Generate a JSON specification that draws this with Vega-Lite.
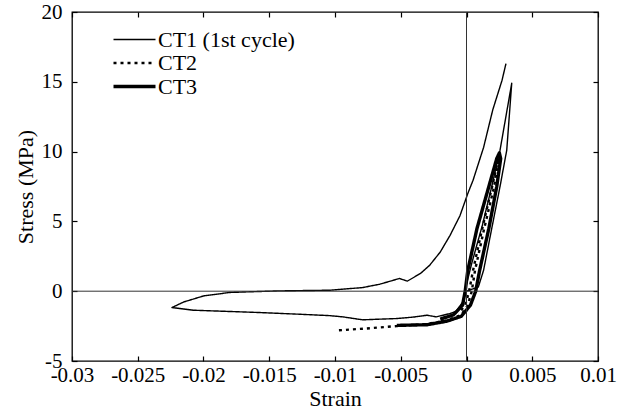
{
  "$schema": "https://vega.github.io/schema/vega-lite/v6.json",
  "width": 526,
  "height": 349,
  "autosize": "none",
  "padding": {"left": 72, "top": 12, "right": 36, "bottom": 54},
  "background": "white",
  "config": {
    "view": {"stroke": "black", "strokeWidth": 1.3},
    "font": "Liberation Serif",
    "axis": {
      "grid": false,
      "domain": false,
      "labelFont": "Liberation Serif",
      "titleFont": "Liberation Serif",
      "labelFontSize": 21,
      "labelColor": "black",
      "labelOverlap": false,
      "labelFlush": false,
      "titleFontSize": 22,
      "titleFontWeight": "normal",
      "titleColor": "black",
      "tickColor": "black",
      "tickWidth": 1.2,
      "tickSize": 5,
      "offset": -5
    }
  },
  "resolve": {"scale": {"x": "independent", "y": "independent"}},
  "layer": [
    {
      "layer": [
        {
          "data": {"values": [
            {"series": "CT1 (1st cycle)", "i": 1, "strain": 0.0, "stress": 0.0},
            {"series": "CT1 (1st cycle)", "i": 2, "strain": 0.0009, "stress": 0.3},
            {"series": "CT1 (1st cycle)", "i": 3, "strain": 0.0013, "stress": 1.5},
            {"series": "CT1 (1st cycle)", "i": 4, "strain": 0.0019, "stress": 4.4},
            {"series": "CT1 (1st cycle)", "i": 5, "strain": 0.00255, "stress": 7.5},
            {"series": "CT1 (1st cycle)", "i": 6, "strain": 0.00306, "stress": 10.1},
            {"series": "CT1 (1st cycle)", "i": 7, "strain": 0.00344, "stress": 14.9},
            {"series": "CT1 (1st cycle)", "i": 8, "strain": 0.00255, "stress": 10.1},
            {"series": "CT1 (1st cycle)", "i": 9, "strain": 0.00192, "stress": 7.5},
            {"series": "CT1 (1st cycle)", "i": 10, "strain": 0.0012, "stress": 4.7},
            {"series": "CT1 (1st cycle)", "i": 11, "strain": 0.0004, "stress": 2.0},
            {"series": "CT1 (1st cycle)", "i": 12, "strain": 0.0, "stress": 0.5},
            {"series": "CT1 (1st cycle)", "i": 13, "strain": -0.0003, "stress": -0.8},
            {"series": "CT1 (1st cycle)", "i": 14, "strain": -0.0008, "stress": -1.45},
            {"series": "CT1 (1st cycle)", "i": 15, "strain": -0.00125, "stress": -1.6},
            {"series": "CT1 (1st cycle)", "i": 16, "strain": -0.0023, "stress": -1.84},
            {"series": "CT1 (1st cycle)", "i": 17, "strain": -0.003, "stress": -1.72},
            {"series": "CT1 (1st cycle)", "i": 18, "strain": -0.004, "stress": -1.85},
            {"series": "CT1 (1st cycle)", "i": 19, "strain": -0.0053, "stress": -1.96},
            {"series": "CT1 (1st cycle)", "i": 20, "strain": -0.0065, "stress": -2.0},
            {"series": "CT1 (1st cycle)", "i": 21, "strain": -0.0079, "stress": -2.05},
            {"series": "CT1 (1st cycle)", "i": 22, "strain": -0.0094, "stress": -1.84},
            {"series": "CT1 (1st cycle)", "i": 23, "strain": -0.0104, "stress": -1.75},
            {"series": "CT1 (1st cycle)", "i": 24, "strain": -0.0127, "stress": -1.65},
            {"series": "CT1 (1st cycle)", "i": 25, "strain": -0.0157, "stress": -1.53},
            {"series": "CT1 (1st cycle)", "i": 26, "strain": -0.0208, "stress": -1.36},
            {"series": "CT1 (1st cycle)", "i": 27, "strain": -0.0224, "stress": -1.17},
            {"series": "CT1 (1st cycle)", "i": 28, "strain": -0.0215, "stress": -0.77},
            {"series": "CT1 (1st cycle)", "i": 29, "strain": -0.02, "stress": -0.34},
            {"series": "CT1 (1st cycle)", "i": 30, "strain": -0.018, "stress": -0.09},
            {"series": "CT1 (1st cycle)", "i": 31, "strain": -0.0144, "stress": 0.02},
            {"series": "CT1 (1st cycle)", "i": 32, "strain": -0.0104, "stress": 0.07},
            {"series": "CT1 (1st cycle)", "i": 33, "strain": -0.0079, "stress": 0.26},
            {"series": "CT1 (1st cycle)", "i": 34, "strain": -0.0066, "stress": 0.5},
            {"series": "CT1 (1st cycle)", "i": 35, "strain": -0.0051, "stress": 0.91},
            {"series": "CT1 (1st cycle)", "i": 36, "strain": -0.0045, "stress": 0.72},
            {"series": "CT1 (1st cycle)", "i": 37, "strain": -0.0035, "stress": 1.27},
            {"series": "CT1 (1st cycle)", "i": 38, "strain": -0.0028, "stress": 1.86},
            {"series": "CT1 (1st cycle)", "i": 39, "strain": -0.002, "stress": 2.8},
            {"series": "CT1 (1st cycle)", "i": 40, "strain": -0.00125, "stress": 4.0},
            {"series": "CT1 (1st cycle)", "i": 41, "strain": -0.0005, "stress": 5.4},
            {"series": "CT1 (1st cycle)", "i": 42, "strain": 0.0001, "stress": 7.0},
            {"series": "CT1 (1st cycle)", "i": 43, "strain": 0.0005, "stress": 7.95},
            {"series": "CT1 (1st cycle)", "i": 44, "strain": 0.0013, "stress": 10.3},
            {"series": "CT1 (1st cycle)", "i": 45, "strain": 0.002, "stress": 13.0},
            {"series": "CT1 (1st cycle)", "i": 46, "strain": 0.0027, "stress": 15.1},
            {"series": "CT1 (1st cycle)", "i": 47, "strain": 0.003, "stress": 16.3},

            {"series": "CT2", "i": 1, "strain": -0.0097, "stress": -2.8},
            {"series": "CT2", "i": 2, "strain": -0.0076, "stress": -2.67},
            {"series": "CT2", "i": 3, "strain": -0.0053, "stress": -2.5},
            {"series": "CT2", "i": 4, "strain": -0.003, "stress": -2.35},
            {"series": "CT2", "i": 5, "strain": -0.0015, "stress": -2.1},
            {"series": "CT2", "i": 6, "strain": -0.0004, "stress": -1.7},
            {"series": "CT2", "i": 7, "strain": 0.0001, "stress": -1.0},
            {"series": "CT2", "i": 8, "strain": 0.0004, "stress": 0.0},
            {"series": "CT2", "i": 9, "strain": 0.00065, "stress": 1.5},
            {"series": "CT2", "i": 10, "strain": 0.00135, "stress": 4.5},
            {"series": "CT2", "i": 11, "strain": 0.0021, "stress": 7.5},
            {"series": "CT2", "i": 12, "strain": 0.0025, "stress": 9.8},
            {"series": "CT2", "i": 13, "strain": 0.00195, "stress": 7.5},
            {"series": "CT2", "i": 14, "strain": 0.0012, "stress": 4.5},
            {"series": "CT2", "i": 15, "strain": 0.0005, "stress": 1.5},
            {"series": "CT2", "i": 16, "strain": 0.0002, "stress": 0.0},
            {"series": "CT2", "i": 17, "strain": -0.0001, "stress": -1.0},
            {"series": "CT2", "i": 18, "strain": -0.0006, "stress": -1.6},

            {"series": "CT3", "i": 1, "strain": -0.0053, "stress": -2.45},
            {"series": "CT3", "i": 2, "strain": -0.003, "stress": -2.4},
            {"series": "CT3", "i": 3, "strain": -0.0015, "stress": -2.15},
            {"series": "CT3", "i": 4, "strain": -0.0004, "stress": -1.8},
            {"series": "CT3", "i": 5, "strain": 0.0003, "stress": -1.0},
            {"series": "CT3", "i": 6, "strain": 0.0007, "stress": 0.0},
            {"series": "CT3", "i": 7, "strain": 0.001, "stress": 1.5},
            {"series": "CT3", "i": 8, "strain": 0.0017, "stress": 4.5},
            {"series": "CT3", "i": 9, "strain": 0.0023, "stress": 7.5},
            {"series": "CT3", "i": 10, "strain": 0.0026, "stress": 9.5},
            {"series": "CT3", "i": 11, "strain": 0.0025, "stress": 9.9},
            {"series": "CT3", "i": 12, "strain": 0.0023, "stress": 9.5},
            {"series": "CT3", "i": 13, "strain": 0.0017, "stress": 7.5},
            {"series": "CT3", "i": 14, "strain": 0.0008, "stress": 4.5},
            {"series": "CT3", "i": 15, "strain": 0.0001, "stress": 1.5},
            {"series": "CT3", "i": 16, "strain": -0.0001, "stress": 0.0},
            {"series": "CT3", "i": 17, "strain": -0.0003, "stress": -1.0},
            {"series": "CT3", "i": 18, "strain": -0.001, "stress": -1.7},
            {"series": "CT3", "i": 19, "strain": -0.002, "stress": -2.0}
          ]},
          "mark": {"type": "line", "strokeJoin": "round"},
          "encoding": {
            "x": {"field": "strain", "type": "quantitative", "title": "Strain",
                  "scale": {"domain": [-0.03, 0.01], "nice": false, "zero": false},
                  "axis": {"values": [-0.03, -0.025, -0.02, -0.015, -0.01, -0.005, 0, 0.005, 0.01],
                           "labelExpr": "replace(format(datum.value, '~g'), '\u2212', '-')",
                           "labelPadding": 3, "titlePadding": 3}},
            "y": {"field": "stress", "type": "quantitative", "title": "Stress (MPa)",
                  "scale": {"domain": [-5, 20], "nice": false, "zero": false},
                  "axis": {"values": [-5, 0, 5, 10, 15, 20],
                           "labelExpr": "replace(format(datum.value, '~g'), '\u2212', '-')",
                           "labelPadding": 10, "titlePadding": 4}},
            "order": {"field": "i", "type": "quantitative"},
            "color": {"field": "series", "type": "nominal",
                      "scale": {"domain": ["CT1 (1st cycle)", "CT2", "CT3"], "range": ["black", "black", "black"]},
                      "legend": {"title": null, "orient": "none", "legendX": 50, "legendY": 16, "symbolType": "M-2,0H2", "symbolSize": 441, "labelFont": "Liberation Serif", "labelFontSize": 22, "labelColor": "black", "rowPadding": -5, "labelOffset": 11}},
            "strokeDash": {"field": "series", "type": "nominal",
                      "scale": {"domain": ["CT1 (1st cycle)", "CT2", "CT3"], "range": [[1, 0], [3, 4], [1, 0]]},
                      "legend": {"title": null, "orient": "none", "legendX": 50, "legendY": 16, "symbolType": "M-2,0H2", "symbolSize": 441, "labelFont": "Liberation Serif", "labelFontSize": 22, "labelColor": "black", "rowPadding": -5, "labelOffset": 11}},
            "strokeWidth": {"field": "series", "type": "nominal",
                      "scale": {"domain": ["CT1 (1st cycle)", "CT2", "CT3"], "range": [1.4, 3.4, 5.5]},
                      "legend": {"title": null, "orient": "none", "legendX": 50, "legendY": 16, "symbolType": "M-2,0H2", "symbolSize": 441, "labelFont": "Liberation Serif", "labelFontSize": 22, "labelColor": "black", "rowPadding": -5, "labelOffset": 11}}
          }
        },
        {
          "data": {"values": [{"v": 0}]},
          "mark": {"type": "rule", "color": "#333", "strokeWidth": 1},
          "encoding": {"x": {"field": "v", "type": "quantitative"}}
        },
        {
          "data": {"values": [{"v": 0}]},
          "mark": {"type": "rule", "color": "#333", "strokeWidth": 1},
          "encoding": {"y": {"field": "v", "type": "quantitative"}}
        }
      ]
    },
    {
      "data": {"values": [{"strain": -0.03, "stress": -5}, {"strain": 0.01, "stress": 20}]},
      "mark": {"type": "point", "opacity": 0},
      "encoding": {
        "x": {"field": "strain", "type": "quantitative",
              "scale": {"domain": [-0.03, 0.01], "nice": false, "zero": false},
              "axis": {"orient": "top", "labels": false, "title": null, "values": [-0.03, -0.025, -0.02, -0.015, -0.01, -0.005, 0, 0.005, 0.01]}},
        "y": {"field": "stress", "type": "quantitative",
              "scale": {"domain": [-5, 20], "nice": false, "zero": false},
              "axis": {"orient": "right", "labels": false, "title": null, "values": [-5, 0, 5, 10, 15, 20]}}
      }
    }
  ]
}
